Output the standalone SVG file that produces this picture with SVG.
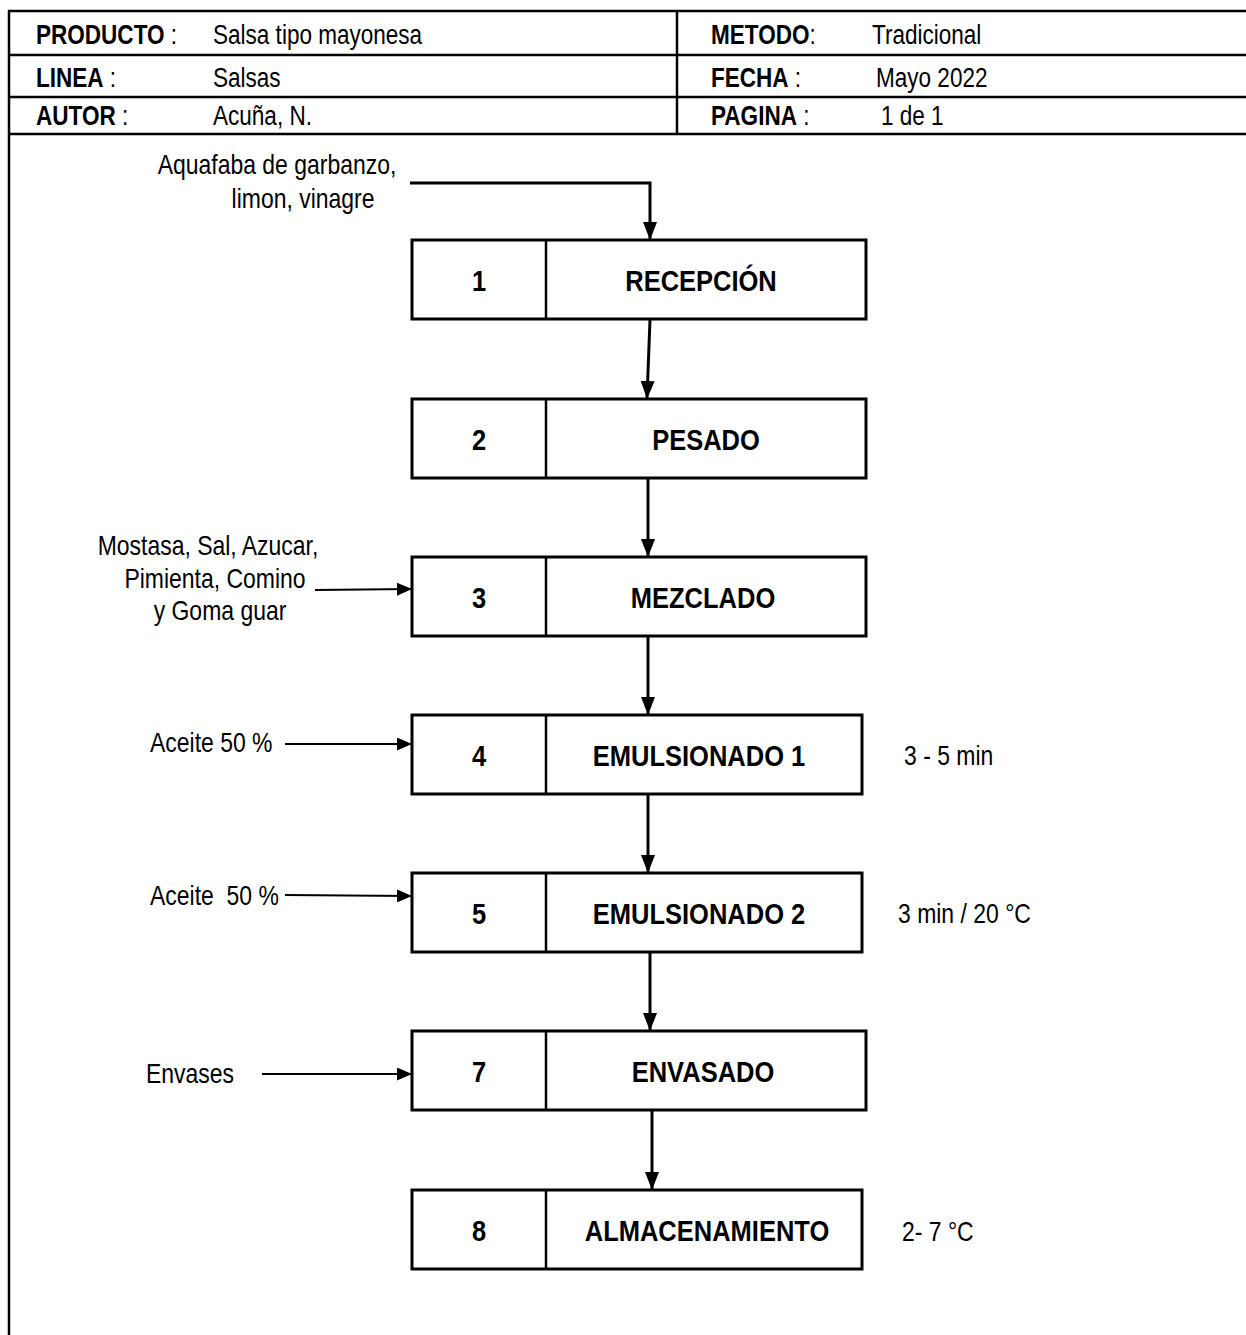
<svg xmlns="http://www.w3.org/2000/svg" width="1246" height="1335" viewBox="0 0 1246 1335">
<style>
.t{font-family:"Liberation Sans",Arial,sans-serif;font-size:28px;fill:#000}
.h{font-size:27.5px}
.b{font-weight:bold}
.n{font-size:30px;font-weight:bold}
.m{text-anchor:middle}
.pre{white-space:pre}
.box{fill:#fff;stroke:#000;stroke-width:3}
.hl{stroke:#000;stroke-width:2.5}
.down{stroke:#000;stroke-width:3;fill:none;marker-end:url(#ah)}
.side{stroke:#000;stroke-width:2;fill:none;marker-end:url(#ah2)}
</style>
<defs>
<marker id="ah" viewBox="0 0 18 14" refX="17" refY="7" markerWidth="18" markerHeight="14" markerUnits="userSpaceOnUse" orient="auto"><path d="M0,0 L18,7 L0,14 z" fill="#000"/></marker>
<marker id="ah2" viewBox="0 0 15 13" refX="14" refY="6.5" markerWidth="15" markerHeight="13" markerUnits="userSpaceOnUse" orient="auto"><path d="M0,0 L15,6.5 L0,13 z" fill="#000"/></marker>
</defs>
<rect width="1246" height="1335" fill="#fff"/>
<g id="header">
<line class="hl" x1="8" y1="11" x2="1246" y2="11" stroke-width="2"/>
<line class="hl" x1="8" y1="55" x2="1246" y2="55"/>
<line class="hl" x1="8" y1="97" x2="1246" y2="97"/>
<line class="hl" x1="8" y1="134" x2="1246" y2="134" stroke-width="3.5"/>
<line class="hl" x1="9" y1="10" x2="9" y2="1335" stroke-width="2"/>
<line class="hl" x1="677" y1="10" x2="677" y2="134" stroke-width="3"/>
<text class="t h" transform="matrix(.82 0 0 1 36 44)"><tspan class="b">PRODUCTO</tspan> :</text>
<text class="t h" transform="matrix(.82 0 0 1 213 44)">Salsa tipo mayonesa</text>
<text class="t h" transform="matrix(.82 0 0 1 36 87)"><tspan class="b">LINEA</tspan> :</text>
<text class="t h" transform="matrix(.82 0 0 1 213 87)">Salsas</text>
<text class="t h" transform="matrix(.82 0 0 1 36 125)"><tspan class="b">AUTOR</tspan> :</text>
<text class="t h" transform="matrix(.82 0 0 1 213 125)">Acuña, N.</text>
<text class="t h" transform="matrix(.82 0 0 1 711 44)"><tspan class="b">METODO</tspan>:</text>
<text class="t h" transform="matrix(.82 0 0 1 872 44)">Tradicional</text>
<text class="t h" transform="matrix(.82 0 0 1 711 87)"><tspan class="b">FECHA</tspan> :</text>
<text class="t h" transform="matrix(.82 0 0 1 876 87)">Mayo 2022</text>
<text class="t h" transform="matrix(.82 0 0 1 711 125)"><tspan class="b">PAGINA</tspan> :</text>
<text class="t h" transform="matrix(.82 0 0 1 881 125)">1 de 1</text>
</g>
<g id="connectors">
<polyline class="down" points="410,183 650,183 650,239"/>
<line class="down" x1="650" y1="320" x2="647" y2="398"/>
<line class="down" x1="648" y1="478" x2="648" y2="556"/>
<line class="down" x1="648" y1="636" x2="648" y2="714"/>
<line class="down" x1="648" y1="794" x2="648" y2="872"/>
<line class="down" x1="650" y1="952" x2="650" y2="1030"/>
<line class="down" x1="652" y1="1110" x2="652" y2="1189"/>
<line class="side" x1="315" y1="590" x2="411" y2="589"/>
<line class="side" x1="285" y1="744" x2="411" y2="744"/>
<line class="side" x1="285" y1="895" x2="411" y2="896"/>
<line class="side" x1="262" y1="1074" x2="411" y2="1074"/>
</g>
<g id="node1"><rect class="box" x="412" y="240" width="454" height="79"/><line class="hl" x1="546" y1="240" x2="546" y2="319" stroke-width="3"/>
<text class="t n m" transform="matrix(.85 0 0 1 479 291)">1</text><text class="t n m" transform="matrix(.85 0 0 1 701 291)">RECEPCIÓN</text></g>
<g id="node2"><rect class="box" x="412" y="399" width="454" height="79"/><line class="hl" x1="546" y1="399" x2="546" y2="478" stroke-width="3"/>
<text class="t n m" transform="matrix(.85 0 0 1 479 450)">2</text><text class="t n m" transform="matrix(.85 0 0 1 706 450)">PESADO</text></g>
<g id="node3"><rect class="box" x="412" y="557" width="454" height="79"/><line class="hl" x1="546" y1="557" x2="546" y2="636" stroke-width="3"/>
<text class="t n m" transform="matrix(.85 0 0 1 479 608)">3</text><text class="t n m" transform="matrix(.85 0 0 1 703 608)">MEZCLADO</text></g>
<g id="node4"><rect class="box" x="412" y="715" width="450" height="79"/><line class="hl" x1="546" y1="715" x2="546" y2="794" stroke-width="3"/>
<text class="t n m" transform="matrix(.85 0 0 1 479 766)">4</text><text class="t n m" transform="matrix(.85 0 0 1 699 766)">EMULSIONADO 1</text></g>
<g id="node5"><rect class="box" x="412" y="873" width="450" height="79"/><line class="hl" x1="546" y1="873" x2="546" y2="952" stroke-width="3"/>
<text class="t n m" transform="matrix(.85 0 0 1 479 924)">5</text><text class="t n m" transform="matrix(.85 0 0 1 699 924)">EMULSIONADO 2</text></g>
<g id="node7"><rect class="box" x="412" y="1031" width="454" height="79"/><line class="hl" x1="546" y1="1031" x2="546" y2="1110" stroke-width="3"/>
<text class="t n m" transform="matrix(.85 0 0 1 479 1082)">7</text><text class="t n m" transform="matrix(.85 0 0 1 703 1082)">ENVASADO</text></g>
<g id="node8"><rect class="box" x="412" y="1190" width="450" height="79"/><line class="hl" x1="546" y1="1190" x2="546" y2="1269" stroke-width="3"/>
<text class="t n m" transform="matrix(.85 0 0 1 479 1241)">8</text><text class="t n m" transform="matrix(.85 0 0 1 707 1241)">ALMACENAMIENTO</text></g>
<g id="labels">
<text class="t m" transform="matrix(.82 0 0 1 277 174)">Aquafaba de garbanzo,</text>
<text class="t m" transform="matrix(.82 0 0 1 303 208)">limon, vinagre</text>
<text class="t m" transform="matrix(.82 0 0 1 208 555)">Mostasa, Sal, Azucar,</text>
<text class="t m" transform="matrix(.82 0 0 1 215 588)">Pimienta, Comino</text>
<text class="t m" transform="matrix(.82 0 0 1 220 620)">y Goma guar</text>
<text class="t" transform="matrix(.82 0 0 1 150 752)">Aceite 50 %</text>
<text class="t pre" transform="matrix(.82 0 0 1 150 905)">Aceite  50 %</text>
<text class="t" transform="matrix(.82 0 0 1 146 1083)">Envases</text>
<text class="t" transform="matrix(.82 0 0 1 904 765)">3 - 5 min</text>
<text class="t" transform="matrix(.82 0 0 1 898 923)">3 min / 20 °C</text>
<text class="t" transform="matrix(.82 0 0 1 902 1241)">2- 7 °C</text>
</g>
</svg>
